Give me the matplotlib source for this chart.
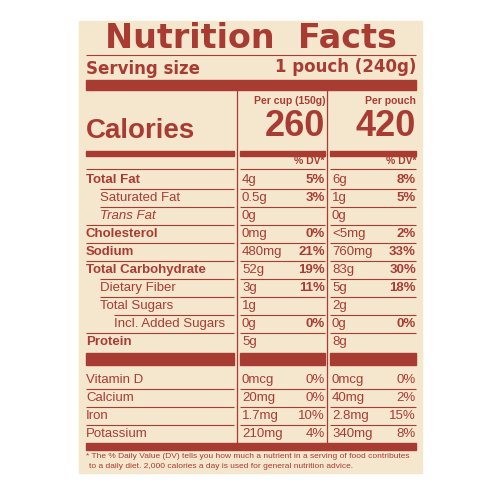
import matplotlib
matplotlib.use("Agg")
import matplotlib.pyplot as plt
from matplotlib.patches import Rectangle

INK = "#a93c32"
BG = "#f5e7cd"
FONT = "Liberation Sans"

nutrients = ["Total Fat", "Saturated Fat", "Trans Fat", "Cholesterol", "Sodium",
             "Total Carbohydrate", "Dietary Fiber", "Total Sugars", "Incl. Added Sugars", "Protein"]
indent = [0, 1, 1, 0, 0, 0, 1, 1, 2, 0]
cup_amt = ["4g", "0.5g", "0g", "0mg", "480mg", "52g", "3g", "1g", "0g", "5g"]
cup_dv = ["5%", "3%", "", "0%", "21%", "19%", "11%", "", "0%", ""]
pouch_amt = ["6g", "1g", "0g", "<5mg", "760mg", "83g", "5g", "2g", "0g", "8g"]
pouch_dv = ["8%", "5%", "", "2%", "33%", "30%", "18%", "", "0%", ""]

vitamins = ["Vitamin D", "Calcium", "Iron", "Potassium"]
v_cup_amt = ["0mcg", "20mg", "1.7mg", "210mg"]
v_cup_dv = ["0%", "0%", "10%", "4%"]
v_pouch_amt = ["0mcg", "40mg", "2.8mg", "340mg"]
v_pouch_dv = ["0%", "2%", "15%", "8%"]

cal_cup, cal_pouch = "260", "420"

fig = plt.figure(figsize=(5, 5), dpi=100)
ax = fig.add_axes([0, 0, 1, 1])
ax.set_xlim(0, 500); ax.set_ylim(500, 0); ax.axis("off")
ax.add_patch(Rectangle((79, 21), 343, 452, color=BG, zorder=0))

def t(x, y, s, size, bold=False, ha="left", italic=False, family=FONT, **kw):
    ax.text(x, y, s, fontsize=size, color=INK, ha=ha, va="center", family=family,
            fontweight="bold" if bold else "normal", style="italic" if italic else "normal", **kw)

def hline(y, x0, x1, w=1.0):
    ax.plot([x0, x1], [y, y], color=INK, lw=w, solid_capstyle="butt")

L0, L1 = 86, 234
C0, C1 = 240, 325
P0, P1 = 330, 416

ax.text((L0 + P1) / 2, 39, "Nutrition  Facts", fontsize=24, color=INK, ha="center", va="center",
        family="DejaVu Sans", fontweight="bold")
hline(55, L0, P1, 0.8)
t(L0, 69, "Serving size", 12, bold=True, family="DejaVu Sans")
t(P1, 67, "1 pouch (240g)", 12, bold=True, ha="right", family="DejaVu Sans")
ax.add_patch(Rectangle((L0, 80), P1 - L0, 10, color=INK))
ax.plot([237, 237], [90, 443], color=INK, lw=0.9)
ax.plot([327, 327], [90, 443], color=INK, lw=0.9)
t(C1, 101, "Per cup (150g)", 7.5, bold=True, ha="right")
t(P1, 101, "Per pouch", 7.5, bold=True, ha="right")
t(L0, 131, "Calories", 20, bold=True)
t(C1, 126, cal_cup, 26, bold=True, ha="right")
t(P1, 126, cal_pouch, 26, bold=True, ha="right")
for a, b in [(L0, L1), (C0, C1), (P0, P1)]:
    ax.add_patch(Rectangle((a, 151), b - a, 5, color=INK))
    hline(169, a, b, 0.8)
t(C1, 161, "% DV*", 7.5, bold=True, ha="right")
t(P1, 161, "% DV*", 7.5, bold=True, ha="right")

y0, dy = 180, 18
for i, n in enumerate(nutrients):
    y = y0 + i * dy
    bold = indent[i] == 0
    t(L0 + 14 * indent[i], y, n, 9.5, bold=bold, italic=(n == "Trans Fat"))
    t(C0 + 2, y, cup_amt[i], 9.5)
    t(C1, y, cup_dv[i], 9.5, bold=True, ha="right")
    t(P0 + 2, y, pouch_amt[i], 9.5)
    t(P1, y, pouch_dv[i], 9.5, bold=True, ha="right")
    if i < len(nutrients) - 1:
        for a, b in [(L0, L1), (C0, C1), (P0, P1)]:
            hline(y + dy / 2, a + (14 * indent[i + 1] if a == L0 else 0), b, 0.8)

for a, b in [(L0, L1), (C0, C1), (P0, P1)]:
    ax.add_patch(Rectangle((a, 353), b - a, 12, color=INK))

vy0 = 380
for i, n in enumerate(vitamins):
    y = vy0 + i * dy
    t(L0, y, n, 9.5)
    t(C0 + 2, y, v_cup_amt[i], 9.5)
    t(C1, y, v_cup_dv[i], 9.5, ha="right")
    t(P0 + 2, y, v_pouch_amt[i], 9.5)
    t(P1, y, v_pouch_dv[i], 9.5, ha="right")
    if i < len(vitamins) - 1:
        for a, b in [(L0, L1), (C0, C1), (P0, P1)]:
            hline(y + dy / 2, a, b, 0.8)

ax.add_patch(Rectangle((L0, 443), P1 - L0, 7, color=INK))
t(L0, 457, "* The % Daily Value (DV) tells you how much a nutrient in a serving of food contributes", 6)
t(L0 + 3, 467, "to a daily diet. 2,000 calories a day is used for general nutrition advice.", 6)

fig.savefig("out.png", dpi=100, facecolor="white")
